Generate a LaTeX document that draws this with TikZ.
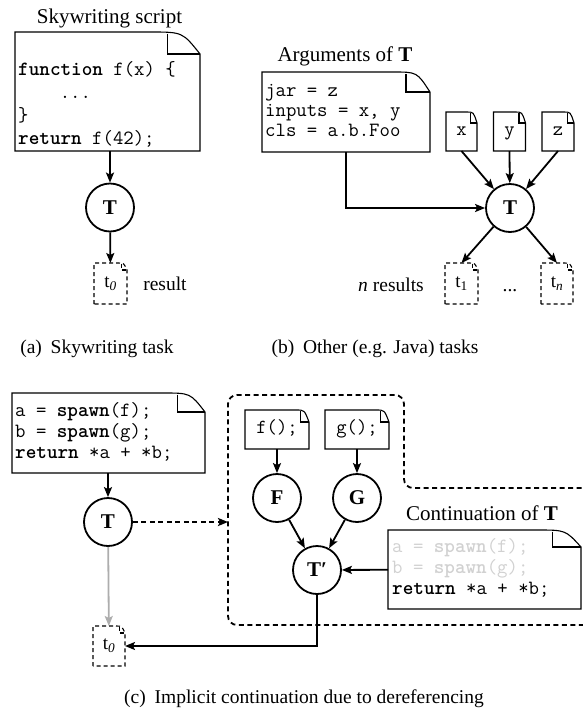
\documentclass[tikz,border=0pt]{standalone}
\usepackage{fontspec}
\setmainfont{Liberation Serif}
\usetikzlibrary{arrows.meta,calc}
\newcommand{\docshape}[4][]{%
 \draw[docline,#1] (#2.south west) -- (#2.north west) -- ([xshift=-#3pt]#2.north east) .. controls ([xshift={-0.35*#3pt}]#2.north east) .. ([yshift=-#4pt]#2.north east) -- (#2.south east) -- cycle;
 \draw[docline,#1] ([xshift={-0.65*#3pt},yshift={-0.09*#4pt}]#2.north east) -- ([xshift={-0.65*#3pt},yshift=-#4pt]#2.north east) -- ([yshift=-#4pt]#2.north east);}
\begin{document}
\begin{tikzpicture}[x=1pt,y=-1pt,
 docbox/.style={rectangle,draw=none,inner sep=0pt,outer sep=0pt},
 codetxt/.style={align=left,inner sep=0pt,anchor=base west},
 task/.style={circle,draw,line width=1.8pt,minimum size=48pt,inner sep=0pt,font=\fontsize{21}{21}\selectfont\bfseries},
 arr/.style={line width=1.8pt,-{Stealth[length=10pt,width=8pt,inset=2pt]}},
 docline/.style={line width=1.1pt},
 dashline/.style={line width=1.1pt,dash pattern=on 4pt off 3pt},
 lbl/.style={anchor=base,inner sep=0pt,font=\fontsize{21}{24}\selectfont},
 captxt/.style={anchor=base,inner sep=0pt,font=\fontsize{19.5}{22}\selectfont},
 tbox/.style={docbox,minimum width=33pt,minimum height=41pt,font=\fontsize{19}{22}\selectfont},
 smalldoc/.style={docbox,font=\fontsize{20}{20}\ttfamily,text height=7pt,text depth=0pt},
 monofont/.style={font=\fontsize{20.2}{#1}\ttfamily}
]
\useasboundingbox (0,0) rectangle (583,710);

% ---------- (a) ----------
\node[lbl] (titleA) at (109.5,23) {Skywriting script};
\node[docbox,minimum width=185pt,minimum height=119pt] (docA) at (107.5,91.5) {};
\docshape{docA}{50}{22}
\node[codetxt,monofont=23] (codeA) at (18,144) {\textbf{function} f(x) \{\\\phantom{xxxx}...\\\}\\\textbf{return} f(42);};
\node[task] (Ta) at (110,207.5) {T};
\node[tbox] (t0a) at (110.5,283.5) {t\textsubscript{\itshape 0}};
\docshape[dashline]{t0a}{9}{7}
\node[lbl,font=\fontsize{19.5}{22}\selectfont] (resA) at (165,290) {result};
\draw[arr] (docA.south -| Ta) -- (Ta);
\draw[arr] (Ta) -- (t0a);
\node[captxt] (capA) at (97,353) {(a)\hspace{0.45em}Skywriting task};

% ---------- (b) ----------
\node[lbl] (titleB) at (345,61) {Arguments of \textbf{T}};
\node[docbox,minimum width=168pt,minimum height=80pt] (argdoc) at (346,112) {};
\docshape{argdoc}{37}{20}
\node[codetxt,monofont=20] (codeB) at (265,136) {jar = z\\inputs = x, y\\cls = a.b.Foo};
\node[smalldoc,minimum width=31pt,minimum height=39pt] (dx) at (461.5,131.5) {x};
\node[smalldoc,minimum width=32pt,minimum height=39pt] (dy) at (509.5,131.5) {y};
\node[smalldoc,minimum width=32pt,minimum height=39pt] (dz) at (558,131.5) {z};
\docshape{dx}{10}{11}
\docshape{dy}{10}{11}
\docshape{dz}{10}{11}
\node[task] (Tb) at (510,208) {T};
\draw[arr] (argdoc.south) |- (Tb);
\draw[arr] (dx.south) -- (Tb);
\draw[arr] (dy.south) -- (Tb);
\draw[arr] (dz.south) -- (Tb);
\node[tbox] (t1) at (461.5,283.5) {t\textsubscript{1}};
\node[tbox,minimum width=32pt] (tn) at (557,283.5) {t\textsubscript{\itshape n}};
\docshape[dashline]{t1}{9}{7}
\docshape[dashline]{tn}{9}{7}
\draw[arr] (Tb) -- (t1.north);
\draw[arr] (Tb) -- (tn.north);
\node[lbl,font=\fontsize{19.5}{22}\selectfont] (nres) at (391,291) {\textit{n} results};
\node[lbl,font=\fontsize{19.5}{22}\selectfont] (dots) at (510,291) {...};
\node[captxt] (capB) at (375,353) {(b)\hspace{0.45em}Other (e.g. Java) tasks};

% ---------- (c) ----------
\node[docbox,minimum width=193pt,minimum height=80pt] (docC) at (108.5,433) {};
\docshape{docC}{42}{19}
\node[codetxt,monofont=21] (codeC) at (15,458) {a = \textbf{spawn}(f);\\b = \textbf{spawn}(g);\\\textbf{return} *a + *b;};
\node[task] (Tc) at (108,522) {T};
\draw[arr] (docC.south -| Tc) -- (Tc);
\draw[line width=1.8pt,dash pattern=on 5pt off 3.5pt,rounded corners=9pt]
  (590,488) -- (404,488) -- (404,395) -- (228,395) -- (228,625) -- (590,625);
\coordinate (regL) at (228,522);
\draw[arr,line width=2pt,dash pattern=on 5pt off 3.5pt] (Tc) -- (regL);
\node[tbox,minimum width=32pt,minimum height=40pt] (t0c) at (109,646) {t\textsubscript{\itshape 0}};
\docshape[dashline]{t0c}{9}{7}
\draw[arr,black!32] (Tc) -- (t0c);
\node[smalldoc,minimum width=64pt,minimum height=39pt] (fdoc) at (277,429.5) {f();};
\node[smalldoc,minimum width=64pt,minimum height=39pt] (gdoc) at (357,429.5) {g();};
\docshape{fdoc}{13}{12}
\docshape{gdoc}{13}{12}
\node[task] (F) at (277,498) {F};
\node[task] (G) at (357,498) {G};
\node[task] (Tp) at (317,570) {T′};
\draw[arr] (fdoc) -- (F);
\draw[arr] (gdoc) -- (G);
\draw[arr] (F) -- (Tp);
\draw[arr] (G) -- (Tp);
\node[lbl] (titleC) at (482,520) {Continuation of \textbf{T}};
\node[docbox,minimum width=193pt,minimum height=79pt] (contdoc) at (484.5,569.5) {};
\docshape{contdoc}{44}{17}
\node[codetxt,monofont=21] (codeD) at (392,594) {\textcolor{black!18}{a = \textbf{spawn}(f);}\\\textcolor{black!18}{b = \textbf{spawn}(g);}\\\textbf{return} *a + *b;};
\draw[arr] (contdoc) -- (Tp);
\draw[arr] (Tp) |- (t0c);
\node[captxt] (capC) at (304,703) {(c)\hspace{0.45em}Implicit continuation due to dereferencing};
\end{tikzpicture}
\end{document}
